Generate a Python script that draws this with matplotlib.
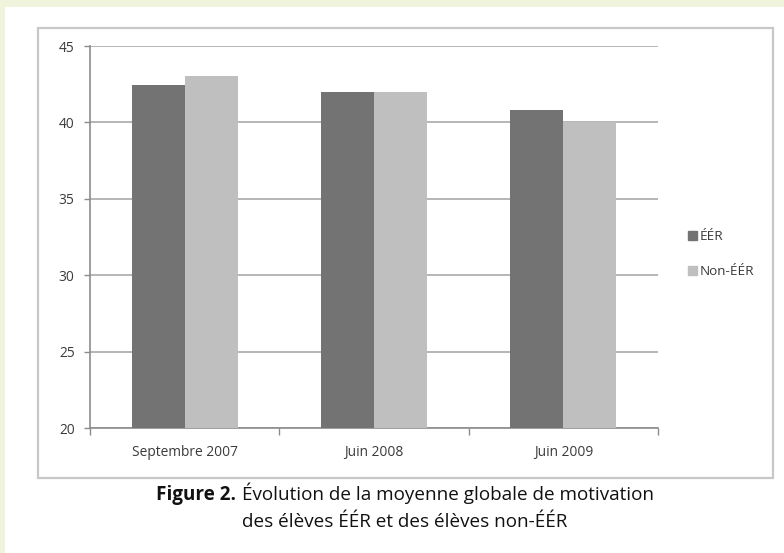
import matplotlib
matplotlib.use("Agg")
import matplotlib.pyplot as plt
from matplotlib.patches import Rectangle, Patch
import numpy as np

categories = ["Septembre 2007", "Juin 2008", "Juin 2009"]
eer = [42.45, 42.0, 40.8]
non_eer = [43.05, 42.0, 40.0]
series_labels = ["ÉÉR", "Non-ÉÉR"]
yticks = [20, 25, 30, 35, 40, 45]
caption_bold = "Figure 2."
caption_1 = "Évolution de la moyenne globale de motivation"
caption_2 = "des élèves ÉÉR et des élèves non-ÉÉR"

FAMILY = ['Open Sans', 'DejaVu Sans']
plt.rcParams['font.family'] = FAMILY

W, H = 784, 553
fig = plt.figure(figsize=(W / 100, H / 100), dpi=100)
fig.patch.set_facecolor('#f0f4dc')


def fx(px):
    return px / W


def fy(py):
    return 1 - py / H


def fit_size(text, target_px, weight='normal', base=10.0):
    t = fig.text(0, 0, text, fontsize=base, fontweight=weight)
    fig.canvas.draw()
    wpx = t.get_window_extent().width
    t.remove()
    return base * target_px / wpx


# white panel
fig.patches.append(Rectangle((fx(5), 0), 1 - fx(5), fy(7), transform=fig.transFigure,
                             facecolor='white', edgecolor='none', zorder=-2))
# chart border box
fig.patches.append(Rectangle((fx(38), fy(478)), fx(773) - fx(38), fy(28) - fy(478),
                             transform=fig.transFigure, facecolor='none',
                             edgecolor='#c8c8c8', linewidth=1.6, zorder=-1))

tick_fs = fit_size(categories[0], 106)
leg_fs = fit_size(series_labels[1], 54)

ax = fig.add_axes([fx(90), fy(428), fx(658) - fx(90), fy(46) - fy(428)])
ax.set_zorder(2)
ax.set_facecolor('none')

x = np.arange(len(categories))
w = 0.28
ax.bar(x - w / 2, eer, width=w, color='#737373', label=series_labels[0], zorder=3)
ax.bar(x + w / 2, non_eer, width=w, color='#bfbfbf', label=series_labels[1], zorder=3)

ax.set_ylim(20, 45)
ax.set_xlim(-0.5, 2.5)
ax.set_yticks(yticks)
ax.yaxis.grid(True, color='#b0b0b0', linewidth=1.3, zorder=0)
ax.set_axisbelow(True)

for s in ['top', 'right']:
    ax.spines[s].set_visible(False)
ax.spines['left'].set_color('#8c8c8c')
ax.spines['bottom'].set_color('#8c8c8c')
ax.spines['left'].set_linewidth(1.2)
ax.spines['bottom'].set_linewidth(1.2)

ax.set_xticks([-0.5, 0.5, 1.5, 2.5])
ax.set_xticklabels([])
ax.set_xticks(x, minor=True)
ax.set_xticklabels(categories, minor=True, fontsize=tick_fs, color='#3a3a3a')
ax.tick_params(axis='x', which='major', length=5, color='#8c8c8c', width=1)
ax.tick_params(axis='x', which='minor', length=0, pad=12)
ax.tick_params(axis='y', length=4, color='#8c8c8c', width=1, labelsize=tick_fs,
               labelcolor='#3a3a3a', pad=7)

handles = [Patch(color='#737373'), Patch(color='#bfbfbf')]
fig.legend(handles, series_labels, loc='center left',
           bbox_to_anchor=(fx(676), fy(254)), frameon=False, fontsize=leg_fs,
           handlelength=0.65, handleheight=0.65, handletextpad=0.2,
           labelspacing=1.6, labelcolor='#3a3a3a')

# caption
cap_fs = fit_size(caption_2, 324)
tb = fig.text(0, fy(500), caption_bold, fontweight='bold', fontsize=cap_fs,
              ha='left', va='baseline', color='#111111')
tr = fig.text(0, fy(500), caption_1, fontsize=cap_fs,
              ha='left', va='baseline', color='#111111')
fig.canvas.draw()
wb = tb.get_window_extent().width
wr = tr.get_window_extent().width
gap = 6
total = wb + gap + wr
start = 405 - total / 2
tb.set_x(fx(start))
tr.set_x(fx(start + wb + gap))
fig.text(fx(405), fy(527), caption_2,
         fontsize=cap_fs, ha='center', va='baseline', color='#111111')

fig.savefig("out.png", dpi=100, facecolor=fig.get_facecolor())
